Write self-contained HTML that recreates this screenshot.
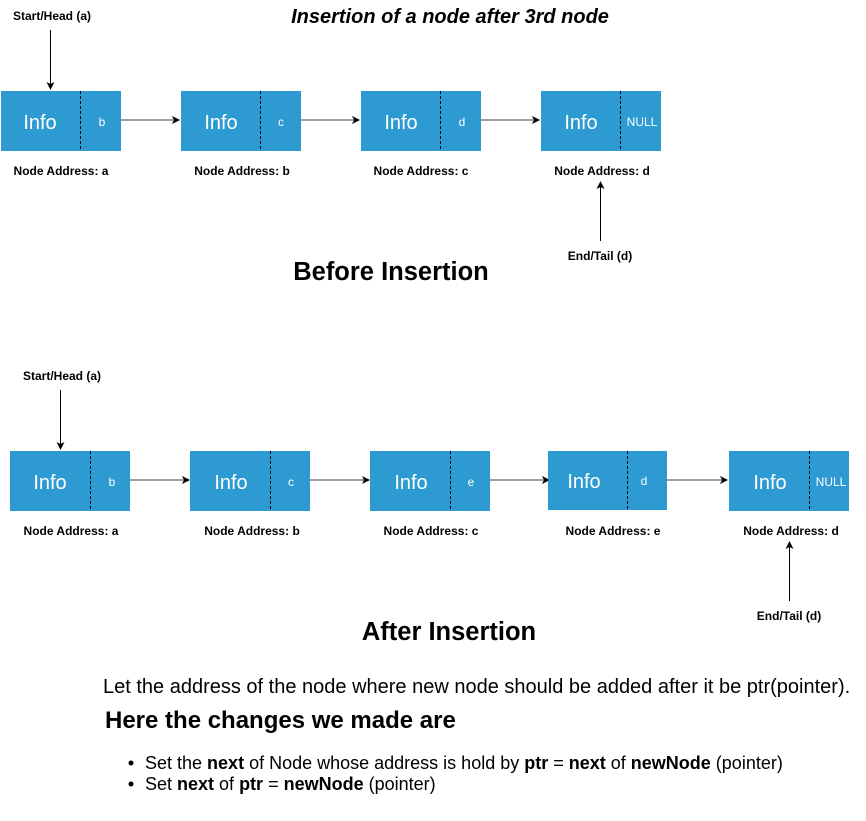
<!DOCTYPE html>
<html><head><meta charset="utf-8"><style>
body{margin:0;background:#fff;width:866px;height:821px;overflow:hidden}
svg{display:block;font-family:"Liberation Sans",Arial,sans-serif}
</style></head><body>
<svg width="866" height="821" xmlns="http://www.w3.org/2000/svg">
<defs><marker id="a" markerWidth="8" markerHeight="8" refX="7" refY="4" orient="auto" markerUnits="userSpaceOnUse"><path d="M0,0 L8,4 L0,8 L2,4 Z" fill="#000"/></marker></defs>
<text x="450" y="23" font-size="20" font-weight="bold" font-style="italic" text-anchor="middle">Insertion of a node after 3rd node</text>
<text x="52" y="20" font-size="12" font-weight="bold" text-anchor="middle">Start/Head (a)</text>
<line x1="50.5" y1="30" x2="50.5" y2="89" stroke="#000" marker-end="url(#a)"/>
<g font-size="12" font-weight="bold" text-anchor="middle">
<text x="61" y="175">Node Address: a</text><text x="242" y="175">Node Address: b</text><text x="421" y="175">Node Address: c</text><text x="602" y="175">Node Address: d</text>
<text x="71" y="535">Node Address: a</text><text x="252" y="535">Node Address: b</text><text x="431" y="535">Node Address: c</text><text x="613" y="535">Node Address: e</text><text x="791" y="535">Node Address: d</text>
<text x="600" y="260">End/Tail (d)</text><text x="62" y="380">Start/Head (a)</text><text x="789" y="620">End/Tail (d)</text>
</g>
<line x1="600.5" y1="241" x2="600.5" y2="182" stroke="#000" marker-end="url(#a)"/>
<line x1="60.5" y1="390" x2="60.5" y2="449" stroke="#000" marker-end="url(#a)"/>
<line x1="789.5" y1="601" x2="789.5" y2="542" stroke="#000" marker-end="url(#a)"/>
<g stroke="#808080" stroke-width="1.5">
<line x1="121" y1="120" x2="179" y2="120" marker-end="url(#a)"/>
<line x1="301" y1="120" x2="359" y2="120" marker-end="url(#a)"/>
<line x1="481" y1="120" x2="539" y2="120" marker-end="url(#a)"/>
<line x1="130" y1="480" x2="189" y2="480" marker-end="url(#a)"/>
<line x1="310" y1="480" x2="369" y2="480" marker-end="url(#a)"/>
<line x1="490" y1="480" x2="549" y2="480" marker-end="url(#a)"/>
<line x1="667" y1="480" x2="727" y2="480" marker-end="url(#a)"/>
</g>
<g fill="#2d9ad1">
<rect x="1" y="91" width="120" height="60"/><rect x="181" y="91" width="120" height="60"/><rect x="361" y="91" width="120" height="60"/><rect x="541" y="91" width="120" height="60"/>
<rect x="10" y="451" width="120" height="60"/><rect x="190" y="451" width="120" height="60"/><rect x="370" y="451" width="120" height="60"/><rect x="548" y="451" width="119" height="59"/><rect x="729" y="451" width="120" height="60"/>
</g>
<g stroke="#000" stroke-dasharray="3,2">
<line x1="80.5" y1="91" x2="80.5" y2="151"/><line x1="260.5" y1="91" x2="260.5" y2="151"/><line x1="440.5" y1="91" x2="440.5" y2="151"/><line x1="620.5" y1="91" x2="620.5" y2="151"/>
<line x1="90.5" y1="451" x2="90.5" y2="511"/><line x1="270.5" y1="451" x2="270.5" y2="511"/><line x1="450.5" y1="451" x2="450.5" y2="511"/><line x1="627.5" y1="451" x2="627.5" y2="510"/><line x1="809.5" y1="451" x2="809.5" y2="511"/>
</g>
<g fill="#fff" text-anchor="middle" font-size="20">
<text x="40" y="129">Info</text><text x="221" y="129">Info</text><text x="401" y="129">Info</text><text x="581" y="129">Info</text>
<text x="50" y="489">Info</text><text x="231" y="489">Info</text><text x="411" y="489">Info</text><text x="584" y="488">Info</text><text x="770" y="489">Info</text>
</g>
<g fill="#fff" text-anchor="middle" font-size="12">
<text x="102" y="126">b</text><text x="281" y="126">c</text><text x="462" y="126">d</text><text x="642" y="126">NULL</text>
<text x="112" y="486">b</text><text x="291" y="486">c</text><text x="471" y="486">e</text><text x="644" y="485">d</text><text x="831" y="486">NULL</text>
</g>
<text x="391" y="280" font-size="25.5" font-weight="bold" text-anchor="middle">Before Insertion</text>
<text x="449" y="640" font-size="25.5" font-weight="bold" text-anchor="middle">After Insertion</text>
<text x="103" y="693" font-size="20">Let the address of the node where new node should be added after it be ptr(pointer).</text>
<text x="105" y="728" font-size="24" font-weight="bold">Here the changes we made are</text>
<circle cx="131" cy="763" r="2.5" fill="#000"/><circle cx="131" cy="784" r="2.5" fill="#000"/>
<text x="145" y="769" font-size="18">Set the <tspan font-weight="bold">next</tspan> of Node whose address is hold by <tspan font-weight="bold">ptr</tspan> = <tspan font-weight="bold">next</tspan> of <tspan font-weight="bold">newNode</tspan> (pointer)</text>
<text x="145" y="790" font-size="18">Set <tspan font-weight="bold">next</tspan> of <tspan font-weight="bold">ptr</tspan> = <tspan font-weight="bold">newNode</tspan> (pointer)</text>
</svg>
</body></html>
